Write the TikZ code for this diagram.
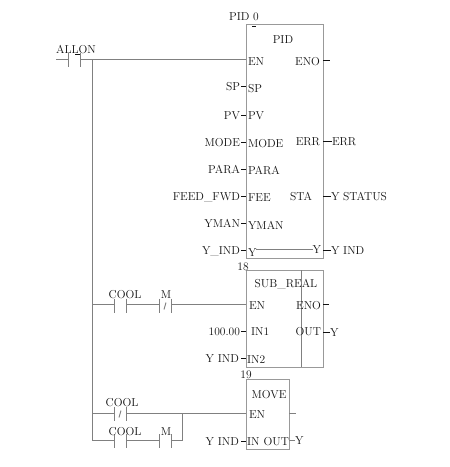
\documentclass[tikz,border=0pt]{standalone}
\usepackage{xcolor}
\usetikzlibrary{positioning}
\definecolor{wirecol}{HTML}{808080}
\definecolor{boxcol}{HTML}{999999}
\definecolor{textcol}{HTML}{111111}
\tikzset{
  wire/.style={draw=wirecol, line width=0.9pt},
  stub/.style={draw=textcol, line width=0.8pt},
  plate/.style={draw=wirecol, line width=0.9pt},
  fblock/.style={draw=boxcol, line width=0.9pt, inner sep=0pt, outer sep=0pt},
  txt/.style={text=textcol, font=\fontsize{11.5}{13}\selectfont, inner sep=0pt, outer sep=0pt, text height=8pt, text depth=0pt},
  contactbox/.style={inner sep=0pt, outer sep=0pt, minimum width=12pt, minimum height=14pt},
}
\newcommand{\contact}[3]{%
  \node[contactbox] (#1) at (#2,#3) {};
  \draw[plate] (#1.north west) -- (#1.south west);
  \draw[plate] (#1.north east) -- (#1.south east);
}
\begin{document}
\begin{tikzpicture}[x=1pt, y=-1pt]
    \useasboundingbox (0,0) rectangle (450,467);

    % power rail
    \coordinate (railtop) at (92,59.5);
    \coordinate (railmid) at (92,304);
    \coordinate (railsub) at (92,413);
    \coordinate (railbot) at (92,440);
    \coordinate (railstart) at (56,59.5);
    \coordinate (joinup) at (182,413);
    \coordinate (joindown) at (182,440);

    % blocks
    \node[fblock, minimum width=77pt, minimum height=233.5pt] (pid) at (284.5,141.25) {};
    \node[fblock, minimum width=77pt, minimum height=97pt] (sub) at (284.5,318.5) {};
    \node[fblock, minimum width=43pt, minimum height=70pt] (move) at (267.5,414) {};
    \coordinate (subtop) at (301,270);
    \coordinate (subbot) at (301,367);
    \draw[wire] (subtop) -- (subbot);

    % contacts
    \contact{allon}{74.5}{60}
    \contact{coola}{120}{305.5}
    \contact{ma}{165}{305.5}
    \contact{coolb}{120}{413.5}
    \contact{coolc}{120}{441}
    \contact{mb}{165}{441}
    \draw[wire] (ma.center) ++(-1,4) -- ++(2,-7);
    \draw[wire] (coolb.center) ++(-1,4) -- ++(2,-7);

    % short marks
    \coordinate (allonmarka) at (75,54.5);
    \coordinate (allonmarkb) at (80,54.5);
    \coordinate (pidmarka) at (252,26.5);
    \coordinate (pidmarkb) at (256,26.5);
    \draw[stub] (allonmarka) -- (allonmarkb);
    \draw[stub] (pidmarka) -- (pidmarkb);

    % rungs
    \draw[wire] (railstart) -- (allon.north west |- railstart);
    \draw[wire] (allon.north east |- railstart) -- (pid.west |- railstart);
    \draw[wire] (railtop) -- (railbot);
    \draw[wire] (railmid) -- (coola.north west |- railmid);
    \draw[wire] (coola.north east |- railmid) -- (ma.north west |- railmid);
    \draw[wire] (ma.north east |- railmid) -- (sub.west |- railmid);
    \draw[wire] (railsub) -- (coolb.north west |- railsub);
    \draw[wire] (coolb.north east |- railsub) -- (move.west |- railsub);
    \draw[wire] (railbot) -- (coolc.north west |- railbot);
    \draw[wire] (coolc.north east |- railbot) -- (mb.north west |- railbot);
    \draw[wire] (mb.north east |- railbot) -- (joindown) -- (joinup);

    % contact labels
    \node[txt] (lallon) at (76,49) {ALLON};
    \node[txt] (lcoola) at (125,294) {COOL};
    \node[txt] (lma) at (166,294) {M};
    \node[txt] (lcoolb) at (122,402) {COOL};
    \node[txt] (lcoolc) at (125,431) {COOL};
    \node[txt] (lmb) at (166,431) {M};

    % pid block
    \node[txt] (pidname) at (244,16) {PID 0};
    \node[txt] (pidtype) at (283,39) {PID};
    \node[txt, anchor=west] (pen) at (248,61) {EN};
    \node[txt, anchor=east] (peno) at (320,61) {ENO};
    \node[txt, anchor=west] (psp) at (248,88) {SP};
    \node[txt, anchor=west] (ppv) at (248,115) {PV};
    \node[txt, anchor=west] (pmode) at (248,143) {MODE};
    \node[txt, anchor=east] (perr) at (320,141) {ERR};
    \node[txt, anchor=west] (ppara) at (248,170) {PARA};
    \node[txt, anchor=west] (pfee) at (248,197) {FEE};
    \node[txt, anchor=east] (psta) at (312,196) {STA};
    \node[txt, anchor=west] (pyman) at (248,225) {YMAN};
    \node[txt, anchor=west] (py) at (248,252) {Y};
    \node[txt, anchor=east] (pyout) at (321,249) {Y};
    \draw[wire] (py.east |- pyout) -- (pyout.west);

    \node[txt, anchor=east] (xsp) at (240,86) {SP};
    \node[txt, anchor=east] (xpv) at (240,115) {PV};
    \node[txt, anchor=east] (xmode) at (240,142) {MODE};
    \node[txt, anchor=east] (xpara) at (240,169) {PARA};
    \node[txt, anchor=east] (xfeed) at (240,196) {FEED\_FWD};
    \node[txt, anchor=east] (xyman) at (240,223) {YMAN};
    \node[txt, anchor=east] (xyind) at (240,250) {Y\_IND};
    \foreach \n in {xsp,xpv,xmode,xpara,xfeed,xyman,xyind}
      \draw[stub] (\n.east) ++(1,0) -- (pid.west |- \n.east);

    \node[txt, anchor=west] (xerr) at (332,141) {ERR};
    \node[txt, anchor=west] (xsta) at (331,196) {Y STATUS};
    \node[txt, anchor=west] (xyout) at (331,250) {Y IND};
    \foreach \n in {xerr,xsta,xyout}
      \draw[stub] (pid.east |- \n.west) -- (\n.west);
    \coordinate (penoend) at (330,60);
    \draw[stub] (pid.east |- penoend) -- (penoend);

    % sub block
    \node[txt] (subname) at (243,266) {18};
    \node[txt] (subtype) at (286,283) {SUB\_REAL};
    \node[txt, anchor=west] (sen) at (249,305) {EN};
    \node[txt, anchor=east] (seno) at (321,305) {ENO};
    \node[txt, anchor=west] (sina) at (251,331) {IN1};
    \node[txt, anchor=east] (sout) at (321,331) {OUT};
    \node[txt, anchor=west] (sinb) at (247,359) {IN2};
    \node[txt, anchor=east] (xsina) at (240,331) {100.00};
    \node[txt, anchor=east] (xsinb) at (239,358) {Y IND};
    \node[txt, anchor=west] (xsout) at (330,332) {Y};
    \draw[stub] (xsina.east) ++(1,0) -- (sub.west |- xsina.east);
    \draw[stub] (xsinb.east) ++(2,0) -- (sub.west |- xsinb.east);
    \draw[stub] (sub.east |- xsout.west) -- (xsout.west);
    \coordinate (senoend) at (329,304);
    \draw[stub] (sub.east |- senoend) -- (senoend);

    % move block
    \node[txt] (movename) at (246,374) {19};
    \node[txt] (movetype) at (269,394) {MOVE};
    \node[txt, anchor=west] (men) at (249,414) {EN};
    \node[txt, anchor=west] (min) at (247,441) {IN};
    \node[txt, anchor=east] (mout) at (289,441) {OUT};
    \node[txt, anchor=east] (xmin) at (239,441) {Y IND};
    \node[txt, anchor=west] (xmout) at (295,440) {Y};
    \draw[stub] (xmin.east) ++(2,0) -- (move.west |- xmin.east);
    \draw[wire] (move.east |- xmout.west) -- (xmout.west);
    \coordinate (menoend) at (296,413);
    \draw[wire] (move.east |- menoend) -- (menoend);
\end{tikzpicture}
\end{document}
